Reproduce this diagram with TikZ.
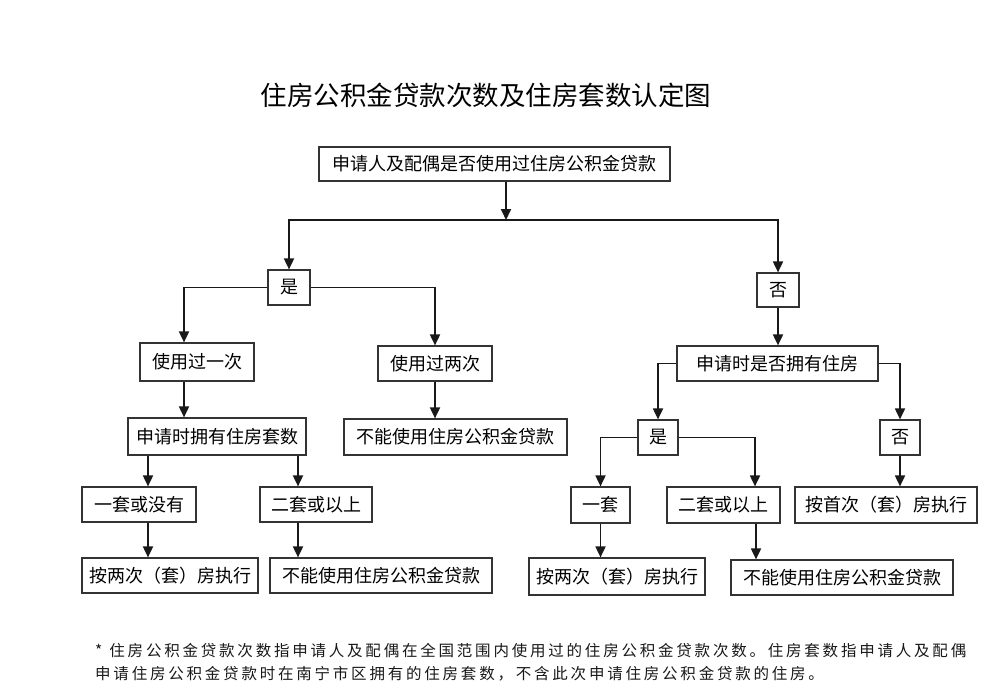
\documentclass[tikz,border=0pt]{standalone}
\usepackage{fontspec}
\usetikzlibrary{arrows.meta}
\newfontfamily\cjk{Noto Sans CJK SC}
\newfontfamily\cjkfoot[LetterSpace=18]{Noto Sans CJK SC}
\tikzset{
  box/.style={draw=black!80, line width=1.2pt, fill=white, inner sep=0pt,
    font=\cjk\fontsize{18pt}{20pt}\selectfont, text=black},
  arr/.style={draw=black!90, line width=1.8pt,
    -{Triangle[length=11pt,width=10pt]}},
  foot/.style={anchor=west, inner sep=0pt, font=\cjkfoot\fontsize{15.5pt}{18pt}\selectfont, text=black!90}
}
\begin{document}
\begin{tikzpicture}[x=1pt,y=-1pt]
\path[fill=white] (0,0) rectangle (987,699);
\useasboundingbox (0,0) rectangle (987,699);
\node[font=\cjk\fontsize{26.5pt}{30pt}\selectfont, inner sep=0pt] (title) at (486,95) {住房公积金贷款次数及住房套数认定图};

\node[box, minimum width=351pt, minimum height=34pt] (top) at (494.5,164) {申请人及配偶是否使用过住房公积金贷款};
\coordinate (j1) at (506,220);

\node[box, minimum width=42pt, minimum height=35pt] (yes1) at (289,287.5) {是};
\node[box, minimum width=42pt, minimum height=34pt] (no1) at (778,290) {否};

\node[box, minimum width=114pt, minimum height=38pt] (used1) at (197,362) {使用过一次};
\node[box, minimum width=114pt, minimum height=35pt] (used2) at (435,363.5) {使用过两次};
\node[box, minimum width=178pt, minimum height=37pt] (count1) at (217,436.5) {申请时拥有住房套数};
\node[box, minimum width=223pt, minimum height=36pt] (cannot1) at (455.5,437) {不能使用住房公积金贷款};
\node[box, minimum width=114pt, minimum height=35pt] (one1) at (139,504.5) {一套或没有};
\node[box, minimum width=112pt, minimum height=35pt] (two1) at (316,504.5) {二套或以上};
\node[box, minimum width=176pt, minimum height=35pt] (rule1) at (170,575.5) {按两次（套）房执行};
\node[box, minimum width=222pt, minimum height=35pt] (cannot2) at (381,575.5) {不能使用住房公积金贷款};

\node[box, minimum width=201pt, minimum height=35pt] (own) at (777.5,363.5) {申请时是否拥有住房};
\node[box, minimum width=40pt, minimum height=35pt] (yes2) at (658,437.5) {是};
\node[box, minimum width=40pt, minimum height=35pt] (no2) at (900,437.5) {否};
\node[box, minimum width=59pt, minimum height=36pt] (one2) at (600.5,505) {一套};
\node[box, minimum width=113pt, minimum height=36pt] (two2) at (723.5,505) {二套或以上};
\node[box, minimum width=182pt, minimum height=36pt] (first) at (886,505) {按首次（套）房执行};
\node[box, minimum width=176pt, minimum height=37pt] (rule2) at (617,576.5) {按两次（套）房执行};
\node[box, minimum width=222pt, minimum height=35pt] (cannot3) at (842,577.5) {不能使用住房公积金贷款};

\node[foot] (f1) at (95,651) {*\hspace{7pt}住房公积金贷款次数指申请人及配偶在全国范围内使用过的住房公积金贷款次数。住房套数指申请人及配偶};
\node[foot] (f2) at (95,674) {申请住房公积金贷款时在南宁市区拥有的住房套数，不含此次申请住房公积金贷款的住房。};

% connectors
\draw[arr] ([xshift=11.5pt]top.south) -- (j1);
\draw[arr] (j1) -| (yes1.north);
\draw[arr] (j1) -| (no1.north);
\draw[arr] (yes1.west) -| ([xshift=-13pt]used1.north);
\draw[arr] (yes1.east) -| (used2.north);
\draw[arr] ([xshift=-13pt]used1.south) -- ([xshift=-33pt]count1.north);
\draw[arr] (used2.south) -- ([xshift=-20.5pt]cannot1.north);
\draw[arr] ([xshift=-69pt]count1.south) -- ([xshift=9pt]one1.north);
\draw[arr] ([xshift=81pt]count1.south) -- ([xshift=-18pt]two1.north);
\draw[arr] ([xshift=9pt]one1.south) -- ([xshift=-22pt]rule1.north);
\draw[arr] ([xshift=-18pt]two1.south) -- ([xshift=-83pt]cannot2.north);

\draw[arr] (no1.south) -- ([xshift=0.5pt]own.north);
\draw[arr] (own.west) -| (yes2.north);
\draw[arr] (own.east) -| (no2.north);
\draw[arr] (yes2.west) -| (one2.north);
\draw[arr] (yes2.east) -| ([xshift=31.5pt]two2.north);
\draw[arr] (no2.south) -- ([xshift=14pt]first.north);
\draw[arr] (one2.south) -- ([xshift=-16.5pt]rule2.north);
\draw[arr] ([xshift=32.5pt]two2.south) -- ([xshift=-86pt]cannot3.north);
\end{tikzpicture}
\end{document}
